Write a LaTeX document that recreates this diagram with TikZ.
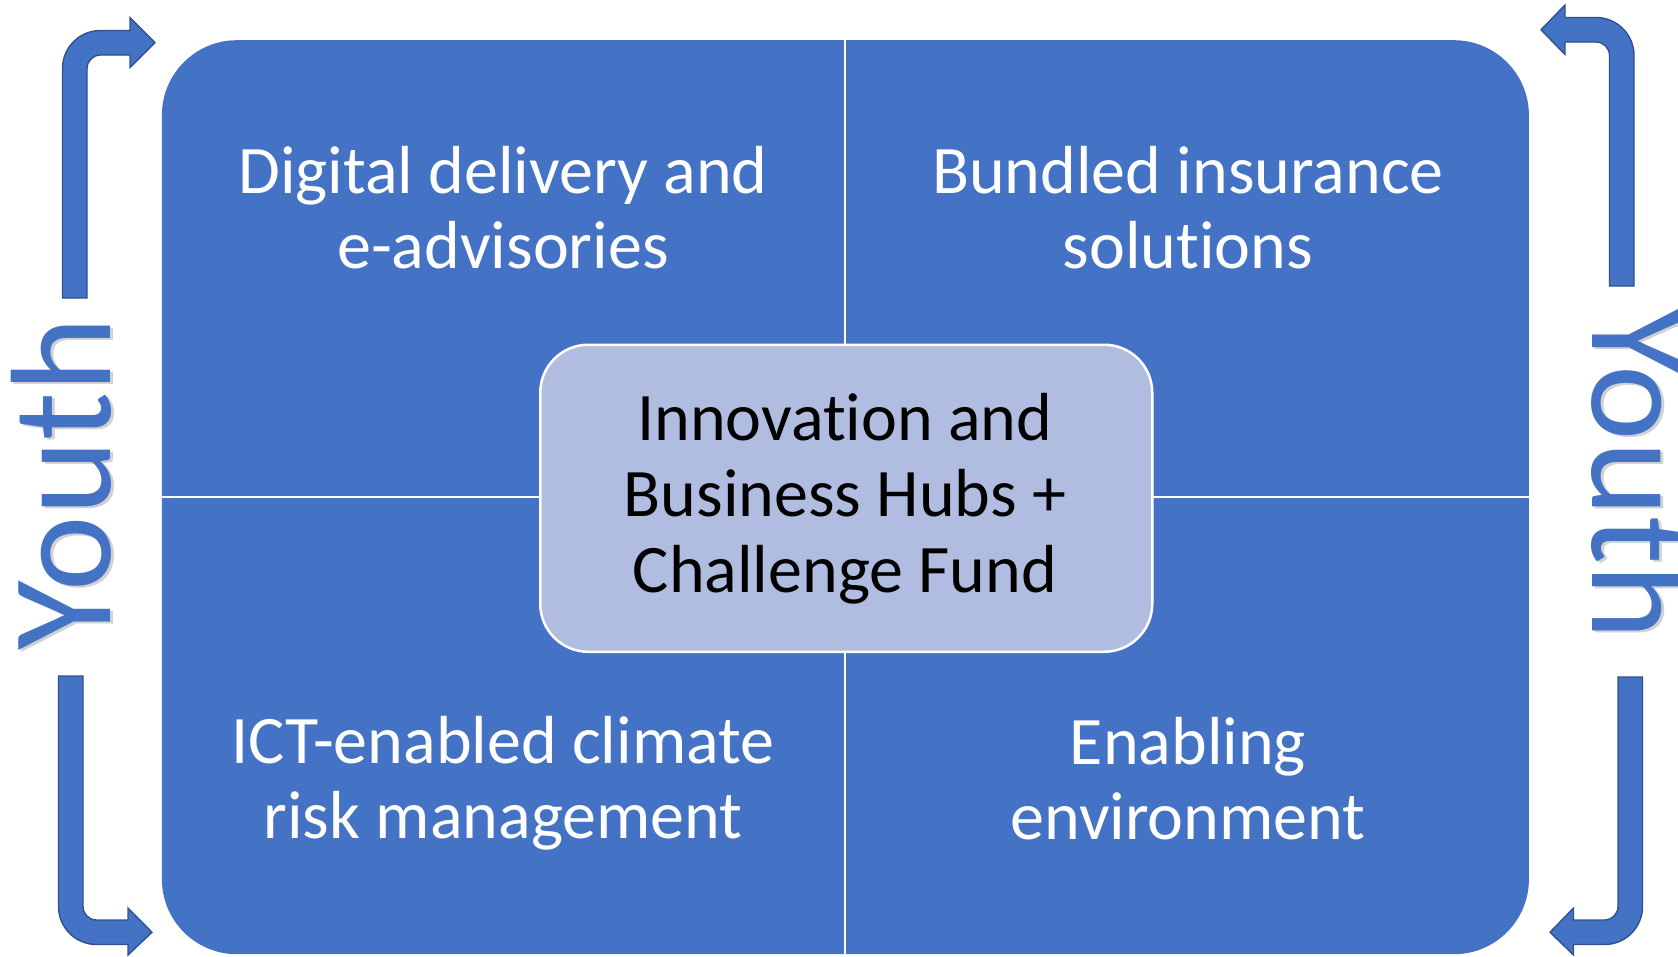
\documentclass[tikz,border=0pt]{standalone}
\usepackage{fontspec}
\setmainfont{Carlito}[Ligatures=NoCommon]
\definecolor{mainblue}{RGB}{68,114,196}
\definecolor{darkblue}{RGB}{47,82,143}
\definecolor{hubfill}{RGB}{176,188,224}
\tikzset{
  arrowshape/.style={fill=mainblue, draw=darkblue, line width=1.4pt, line join=miter},
  celltext/.style={text=white, align=center, font=\fontsize{68}{75}\selectfont, inner sep=0pt},
  hubtext/.style={text=black, align=center, font=\fontsize{68}{76}\selectfont, inner sep=0pt},
  youthtext/.style={text=mainblue, font=\fontsize{143}{150}\selectfont, inner sep=0pt, anchor=base},
  youthshadow/.style={text=black, opacity=0.18, font=\fontsize{143}{150}\selectfont, inner sep=0pt, anchor=base},
  divider/.style={draw=white, line width=2.5pt}
}
\begin{document}
\begin{tikzpicture}[x=1pt,y=-1pt]
\useasboundingbox (0,0) rectangle (1678,956);

% main rounded panel
\node[fill=mainblue, rounded corners=75pt, minimum width=1367pt, minimum height=914pt, inner sep=0pt, anchor=north west] (panel) at (161.7,40) {};

% dividers
\coordinate (vtop) at (845,40);
\coordinate (vbot) at (845,954);
\coordinate (hleft) at (161.7,497);
\coordinate (hright) at (1529,497);
\draw[divider] (vtop) -- (vbot);
\draw[divider] (hleft) -- (hright);

% central hub
\node[fill=hubfill, draw=white, line width=2.5pt, rounded corners=48pt, minimum width=612pt, minimum height=307pt, inner sep=0pt, anchor=north west] (hub) at (539,343.5) {};
\node[hubtext] (hubtxt) at (845,499) {Innovation and\\Business Hubs +\\Challenge Fund};

% cell texts
\node[celltext] (tl) at (503,208) {Digital delivery and\\e-advisories};
\node[celltext] (tr) at (1188,208) {Bundled insurance\\solutions};
\node[celltext] (bl) at (503,783) {ICT-enabled climate\\risk management};
\node[celltext] (br) at (1188,779) {Enabling\\environment};

% bent arrows
% top-left
\path[arrowshape] (62.5,298) -- (62.5,68.5) arc[start angle=180, end angle=90, radius=38pt]
  -- (130,30.5) -- (130,17.5) -- (155,42.75) -- (130,67.5) -- (130,55) -- (100.5,55)
  arc[start angle=90, end angle=180, radius=13.5pt] -- (87,298) -- cycle;
% top-right
\path[arrowshape] (1634,286) -- (1634,55.5) arc[start angle=0, end angle=90, radius=38pt]
  -- (1565,17.5) -- (1565,5) -- (1541,29.75) -- (1565,54.5) -- (1565,42) -- (1596,42)
  arc[start angle=90, end angle=0, radius=13.5pt] -- (1609.5,286) -- cycle;
% bottom-left
\path[arrowshape] (58.5,676) -- (58.5,906.5) arc[start angle=180, end angle=270, radius=38pt]
  -- (128,944.5) -- (128,955) -- (152,932.25) -- (128,908) -- (128,920) -- (96.5,920)
  arc[start angle=270, end angle=180, radius=13.5pt] -- (83,676) -- cycle;
% bottom-right
\path[arrowshape] (1642.5,677) -- (1642.5,906.5) arc[start angle=0, end angle=-90, radius=38pt]
  -- (1573.5,944.5) -- (1573.5,955) -- (1550,932.25) -- (1573.5,908) -- (1573.5,920) -- (1604.5,920)
  arc[start angle=270, end angle=360, radius=13.5pt] -- (1618,677) -- cycle;

% Youth labels
\node[youthshadow, rotate=90] (ylsh) at (113,486) {Youth};
\node[youthtext, rotate=90] (yl) at (110,484) {Youth};
\node[youthshadow, rotate=-90] (yrsh) at (1595,475) {Youth};
\node[youthtext, rotate=-90] (yr) at (1592,473) {Youth};
\end{tikzpicture}
\end{document}
